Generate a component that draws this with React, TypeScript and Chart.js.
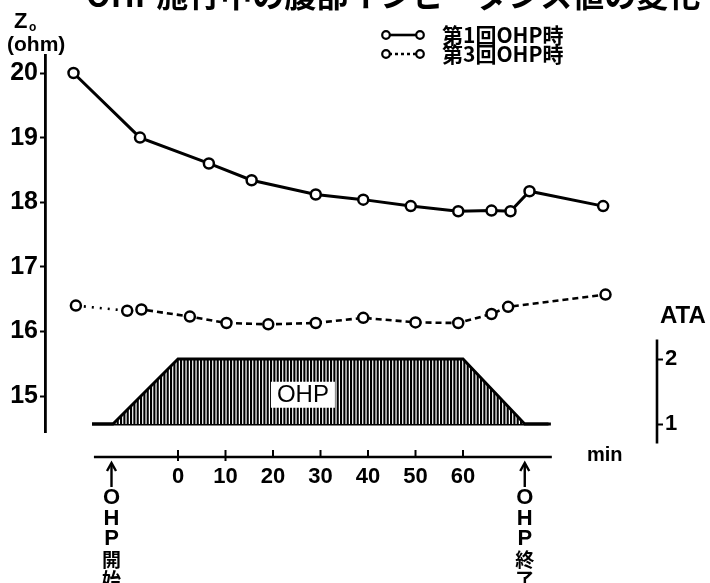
import React, { useEffect, useRef } from 'react';
import { Chart, registerables } from 'chart.js';

Chart.register(...registerables);

// ---- data ----
const TITLE = 'OHP施行中の腹部インピーダンス値の変化';
const legendLabels = ['第1回OHP時', '第3回OHP時'];
const xTickValues = [0, 10, 20, 30, 40, 50, 60];
const yTickValues = [15, 16, 17, 18, 19, 20];
const ataTickValues = [1, 2];

const solidT = [-22, -8, 6.5, 15.5, 29, 39, 49, 59, 66, 70, 74, 89.5];
const solidZ = [20.0, 19.0, 18.6, 18.34, 18.12, 18.04, 17.94, 17.86, 17.87, 17.86, 18.17, 17.94];

const dashT = [-21.5, -10.7, -7.7, 2.5, 10.2, 19, 29, 39, 50, 59, 66, 69.5, 90];
const dashZ = [16.4, 16.32, 16.34, 16.23, 16.13, 16.11, 16.13, 16.21, 16.14, 16.13, 16.27, 16.38, 16.57];

const ataT = [-18.1, -13.7, 0, 60, 73, 78];
const ataV = [1, 1, 2, 2, 1, 1];
const baseT = [-18.1, 78.5];
const baseV = [1, 1];

const ohpStartT = -14;
const ohpEndT = 73;
const startLabel = ['O', 'H', 'P', '開', '始'];
const endLabel = ['O', 'H', 'P', '終', '了'];

const LATIN = '"Liberation Sans", "DejaVu Sans", sans-serif';
const CJK = '"Noto Sans CJK JP", "Noto Sans", sans-serif';

function makePattern(): CanvasPattern | string {
  const c = document.createElement('canvas');
  c.width = 10;
  c.height = 10;
  const g = c.getContext('2d');
  if (!g) return '#444';
  g.fillStyle = '#fff';
  g.fillRect(0, 0, 10, 10);
  g.fillStyle = '#000';
  [0, 3.33, 6.67].forEach((x) => g.fillRect(x, 0, 2.1, 10));
  const p = g.createPattern(c, 'repeat');
  return p || '#444';
}

const decoPlugin = {
  id: 'deco',
  afterDatasetsDraw(chart: any) {
    const ctx = chart.ctx as CanvasRenderingContext2D;
    const xs = chart.scales.x;
    const y2 = chart.scales.y2;
    const cx = xs.getPixelForValue(26.3);
    const cy = y2.getPixelForValue(1.45);
    ctx.save();
    ctx.fillStyle = '#fff';
    ctx.fillRect(cx - 32, cy - 13, 64, 26);
    ctx.fillStyle = '#000';
    ctx.font = `24px ${LATIN}`;
    ctx.textAlign = 'center';
    ctx.textBaseline = 'middle';
    ctx.fillText('OHP', cx, cy + 1);
    ctx.restore();
  },
  afterDraw(chart: any) {
    const ctx = chart.ctx as CanvasRenderingContext2D;
    const xs = chart.scales.x;
    const y2 = chart.scales.y2;
    const area = chart.chartArea;
    ctx.save();
    ctx.fillStyle = '#000';
    ctx.strokeStyle = '#000';

    // title (cut off at the top)
    ctx.font = `bold 32px ${CJK}`;
    ctx.textAlign = 'left';
    ctx.textBaseline = 'alphabetic';
    ctx.fillText(TITLE, 86, 7);

    // y axis unit
    ctx.font = `bold 22px ${LATIN}`;
    ctx.textAlign = 'left';
    ctx.textBaseline = 'middle';
    ctx.fillText('Z', 14, 22);
    ctx.font = `bold 12px ${LATIN}`;
    ctx.fillText('o', 29, 28);
    ctx.font = `bold 21px ${LATIN}`;
    ctx.fillText('(ohm)', 7, 45);

    // legend
    const rows = [35, 54];
    rows.forEach((ry, i) => {
      ctx.lineWidth = 2.6;
      ctx.setLineDash(i === 0 ? [] : [3, 3]);
      ctx.beginPath();
      ctx.moveTo(389, ry);
      ctx.lineTo(417, ry);
      ctx.stroke();
      ctx.setLineDash([]);
      ctx.lineWidth = 2.2;
      [386, 420].forEach((px) => {
        ctx.beginPath();
        ctx.arc(px, ry, 3.8, 0, Math.PI * 2);
        ctx.fillStyle = '#fff';
        ctx.fill();
        ctx.stroke();
      });
      ctx.fillStyle = '#000';
      ctx.font = `bold 21px ${CJK}`;
      ctx.textAlign = 'left';
      ctx.textBaseline = 'middle';
      ctx.fillText(legendLabels[i], 442, ry);
    });

    // x axis line (detached)
    const lineY = 457;
    ctx.lineWidth = 2.6;
    ctx.beginPath();
    ctx.moveTo(xs.getPixelForValue(-17.7), lineY);
    ctx.lineTo(xs.getPixelForValue(78.7), lineY);
    ctx.stroke();
    ctx.lineWidth = 2;
    xTickValues.forEach((v, i) => {
      const px = xs.getPixelForValue(v);
      ctx.beginPath();
      ctx.moveTo(px, lineY - 7);
      ctx.lineTo(px, lineY + (i < 2 ? 4 : 1));
      ctx.stroke();
    });
    ctx.font = `bold 20px ${LATIN}`;
    ctx.textAlign = 'left';
    ctx.textBaseline = 'middle';
    ctx.fillText('min', 587, 455);

    // arrows with vertical labels
    const drawArrow = (t: number, chars: string[]) => {
      const px = xs.getPixelForValue(t);
      ctx.lineWidth = 2.4;
      ctx.beginPath();
      ctx.moveTo(px, 487);
      ctx.lineTo(px, 464);
      ctx.stroke();
      ctx.beginPath();
      ctx.moveTo(px - 4.5, 471);
      ctx.lineTo(px, 463);
      ctx.lineTo(px + 4.5, 471);
      ctx.stroke();
      ctx.textAlign = 'center';
      ctx.textBaseline = 'middle';
      chars.forEach((ch, k) => {
        const cy = 498 + k * 20.5;
        if (k < 3) ctx.font = `bold 22px ${LATIN}`;
        else ctx.font = `bold 19px ${CJK}`;
        ctx.fillText(ch, px, cy);
      });
    };
    drawArrow(ohpStartT, startLabel);
    drawArrow(ohpEndT, endLabel);

    // ATA axis
    const rx = area.right;
    ctx.lineWidth = 2.6;
    ctx.beginPath();
    ctx.moveTo(rx, y2.getPixelForValue(2.3));
    ctx.lineTo(rx, y2.getPixelForValue(0.7));
    ctx.stroke();
    ctx.font = `bold 24px ${LATIN}`;
    ctx.textAlign = 'left';
    ctx.textBaseline = 'middle';
    ctx.fillText('ATA', 660, 316);

    ctx.restore();
  },
};

export default function App() {
  const ref = useRef<HTMLCanvasElement | null>(null);

  useEffect(() => {
    if (!ref.current) return;
    Chart.defaults.font.family = LATIN;
    const pattern = makePattern();
    const pointStyle = {
      pointRadius: 5,
      pointHoverRadius: 5,
      pointBorderWidth: 2.5,
      pointBackgroundColor: '#fff',
      pointBorderColor: '#000',
    };
    const chart = new Chart(ref.current, {
      type: 'line',
      data: {
        datasets: [
          {
            label: legendLabels[0],
            data: solidT.map((t, i) => ({ x: t, y: solidZ[i] })),
            borderColor: '#000',
            borderWidth: 3,
            yAxisID: 'y',
            ...pointStyle,
          },
          {
            label: legendLabels[1],
            data: dashT.map((t, i) => ({ x: t, y: dashZ[i] })),
            borderColor: '#000',
            borderWidth: 2.6,
            segment: {
              borderDash: (c: any) => (c.p0DataIndex === 0 ? [2, 6] : [6, 4]),
            },
            yAxisID: 'y',
            ...pointStyle,
          },
          {
            label: 'ATA',
            data: ataT.map((t, i) => ({ x: t, y: ataV[i] })),
            borderColor: '#000',
            borderWidth: 2.8,
            backgroundColor: pattern as any,
            fill: { value: 1 },
            pointRadius: 0,
            yAxisID: 'y2',
          },
          {
            label: 'base',
            data: baseT.map((t, i) => ({ x: t, y: baseV[i] })),
            borderColor: '#000',
            borderWidth: 2.8,
            pointRadius: 0,
            yAxisID: 'y2',
          },
        ],
      },
      options: {
        responsive: false,
        animation: false,
        devicePixelRatio: 1,
        events: [],
        layout: { padding: { top: 55, left: 0, right: 0, bottom: 0 } },
        plugins: {
          legend: { display: false },
          tooltip: { enabled: false },
          title: { display: false },
        },
        scales: {
          x: {
            type: 'linear',
            min: -28,
            max: 100.84,
            position: 'bottom',
            afterBuildTicks: (s: any) => {
              s.ticks = xTickValues.map((v) => ({ value: v }));
            },
            afterFit: (s: any) => {
              s.height = 151;
            },
            grid: { display: true, drawOnChartArea: false, drawTicks: false },
            border: { display: false },
            ticks: {
              color: '#000',
              padding: 32,
              maxRotation: 0,
              autoSkip: false,
              font: { size: 22, weight: 'bold', family: LATIN },
            },
          },
          y: {
            type: 'linear',
            min: 14.443,
            max: 20.279,
            position: 'left',
            afterBuildTicks: (s: any) => {
              s.ticks = yTickValues.map((v) => ({ value: v }));
            },
            afterFit: (s: any) => {
              s.width = 45;
            },
            grid: {
              drawOnChartArea: false,
              drawTicks: true,
              tickLength: 5,
              tickWidth: 2,
              color: '#000',
            },
            border: { display: true, color: '#000', width: 2.8 },
            ticks: {
              color: '#000',
              padding: 2,
              font: { size: 25, weight: 'bold', family: LATIN },
            },
          },
          y2: {
            type: 'linear',
            min: 0.877,
            max: 6.677,
            position: 'right',
            afterBuildTicks: (s: any) => {
              s.ticks = ataTickValues.map((v) => ({ value: v }));
            },
            afterFit: (s: any) => {
              s.width = 53;
            },
            grid: {
              drawOnChartArea: false,
              drawTicks: true,
              tickLength: 6,
              tickWidth: 2,
              color: '#000',
            },
            border: { display: false },
            ticks: {
              color: '#000',
              padding: 2,
              font: { size: 22, weight: 'bold', family: LATIN },
            },
          },
        },
      },
      plugins: [decoPlugin],
    } as any);
    return () => chart.destroy();
  }, []);

  return (
    <div style={{ position: 'fixed', left: 0, top: 0, width: 710, height: 583, background: '#fff' }}>
      <canvas ref={ref} width={710} height={583} style={{ display: 'block', width: 710, height: 583 }} />
    </div>
  );
}
